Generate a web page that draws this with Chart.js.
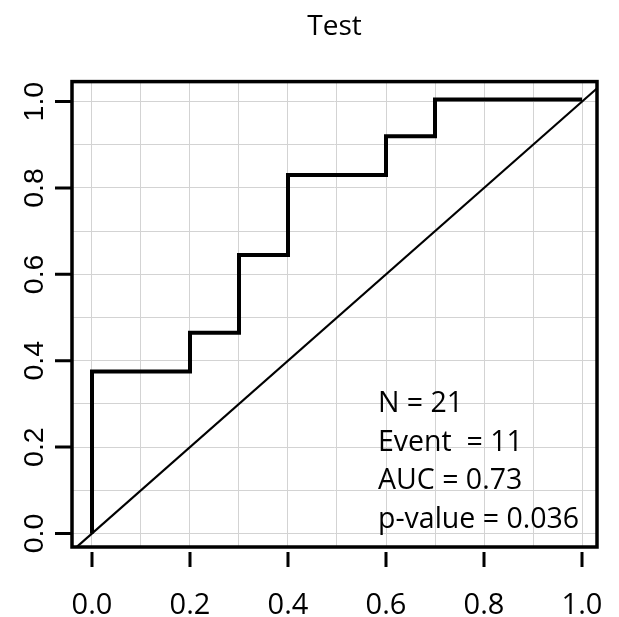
<!DOCTYPE html>
<html>
<head>
<meta charset="utf-8">
<script src="https://cdn.jsdelivr.net/npm/chart.js@4.4.0/dist/chart.umd.min.js"></script>
<style>
    html, body { margin: 0; padding: 0; background: #fff; }
    #wrap { width: 619px; height: 617px; position: relative; }
</style>
</head>
<body>
<div id="wrap"><canvas id="roc"></canvas></div>
<script>
// ROC曲線の点 (偽陽性率, 真陽性率)
const fpr = [0, 0, 0.2, 0.2, 0.3, 0.3, 0.4, 0.4, 0.6, 0.6, 0.7, 0.7, 1.0];
const tpr = [0, 0.375, 0.375, 0.465, 0.465, 0.645, 0.645, 0.83, 0.83, 0.92, 0.92, 1.005, 1.005];
// 対角線 (y = x)
const refLine = [-0.1, 1.1];
// グリッドと目盛り
const gridValues = [0, 0.1, 0.2, 0.3, 0.4, 0.5, 0.6, 0.7, 0.8, 0.9, 1.0];
const tickValues = [0, 0.2, 0.4, 0.6, 0.8, 1.0];
const tickLabels = ['0.0', '0.2', '0.4', '0.6', '0.8', '1.0'];
// 右下の統計テキスト
const statLines = ['N = 21', 'Event  = 11', 'AUC = 0.73', 'p-value = 0.036'];

// 枠・目盛り・ラベル・テキストを描く
const axesBox = {
    id: 'axesBox',
    afterDraw(chart) {
        const { ctx, chartArea: a, scales: { x, y } } = chart;
        ctx.save();
        ctx.strokeStyle = '#000';
        ctx.lineWidth = 3.5;
        ctx.strokeRect(a.left, a.top, a.right - a.left, a.bottom - a.top);

        ctx.lineWidth = 3;
        ctx.beginPath();
        tickValues.forEach(v => {
            const px = x.getPixelForValue(v);
            ctx.moveTo(px, a.bottom + 5);
            ctx.lineTo(px, a.bottom + 20);
            const py = y.getPixelForValue(v);
            ctx.moveTo(a.left - 17, py);
            ctx.lineTo(a.left, py);
        });
        ctx.stroke();

        ctx.fillStyle = '#000';
        ctx.textBaseline = 'alphabetic';
        ctx.textAlign = 'center';
        ctx.font = '29px "Open Sans"';
        tickValues.forEach((v, i) => {
            ctx.fillText(tickLabels[i], x.getPixelForValue(v), 614);
        });

        ctx.font = '28.5px "Liberation Sans"';
        tickValues.forEach((v, i) => {
            ctx.save();
            ctx.translate(43, y.getPixelForValue(v));
            ctx.rotate(-Math.PI / 2);
            ctx.fillText(tickLabels[i], 0, 0);
            ctx.restore();
        });

        ctx.textAlign = 'left';
        ctx.font = '28.5px "Open Sans"';
        statLines.forEach((s, i) => {
            ctx.fillText(s, 378, 412 + i * 38.7);
        });
        ctx.restore();
    }
};

const ctx = document.getElementById('roc').getContext('2d');
new Chart(ctx, {
    type: 'scatter',
    data: {
        datasets: [
            {
                data: refLine.map(v => ({ x: v, y: v })),
                showLine: true,
                borderColor: '#000',
                borderWidth: 2.2,
                pointRadius: 0
            },
            {
                data: fpr.map((v, i) => ({ x: v, y: tpr[i] })),
                showLine: true,
                borderColor: '#000',
                borderWidth: 4,
                borderJoinStyle: 'miter',
                pointRadius: 0
            }
        ]
    },
    options: {
        responsive: true,
        maintainAspectRatio: false,
        animation: false,
        devicePixelRatio: 1,
        layout: {
            padding: { left: 72, right: 22, top: 0, bottom: 70 }
        },
        scales: {
            x: {
                type: 'linear',
                min: -0.0408,
                max: 1.0306,
                afterBuildTicks: scale => { scale.ticks = gridValues.map(v => ({ value: v })); },
                ticks: { display: false },
                grid: { color: '#d3d3d3', lineWidth: 1, drawTicks: false },
                border: { display: false }
            },
            y: {
                type: 'linear',
                min: -0.0313,
                max: 1.0463,
                afterBuildTicks: scale => { scale.ticks = gridValues.map(v => ({ value: v })); },
                ticks: { display: false },
                grid: { color: '#d3d3d3', lineWidth: 1, drawTicks: false },
                border: { display: false }
            }
        },
        plugins: {
            legend: { display: false },
            tooltip: { enabled: false },
            title: {
                display: true,
                text: 'Test',
                color: '#000',
                font: { family: 'Open Sans', size: 28, weight: 'normal' },
                padding: { top: 10, bottom: 38 }
            }
        }
    },
    plugins: [axesBox]
});
</script>
</body>
</html>
